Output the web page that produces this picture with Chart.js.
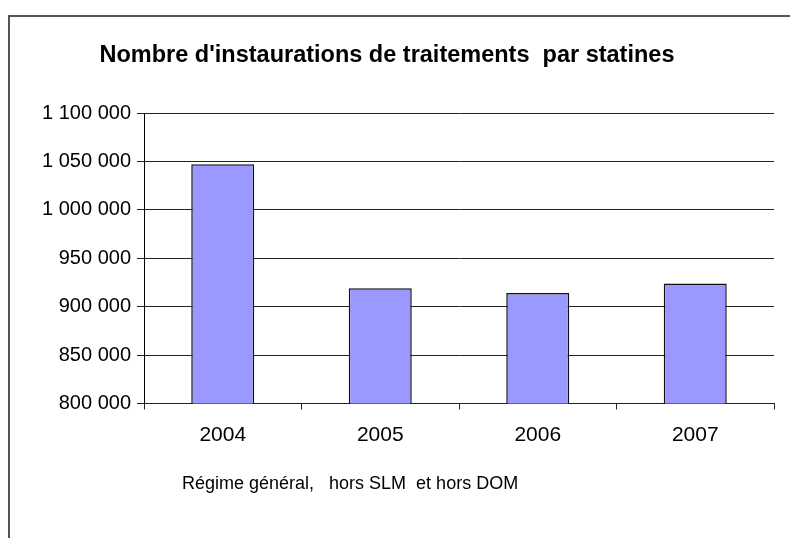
<!DOCTYPE html>
<html>
<head>
<meta charset="utf-8">
<script src="https://cdn.jsdelivr.net/npm/chart.js@4/dist/chart.umd.min.js"></script>
<style>
  html, body { margin: 0; padding: 0; background: #fff; overflow: hidden; }
  #wrap { position: relative; width: 790px; height: 538px; }
  #frame { position: absolute; left: 8px; top: 15px; width: 900px; height: 700px;
           border-left: 2px solid #555; border-top: 2px solid #555; }
  #c { position: absolute; left: 0; top: 0; }
</style>
</head>
<body>
<div id="wrap">
  <div id="frame"></div>
  <canvas id="c" width="790" height="538"></canvas>
</div>
<script>
var years = ['2004', '2005', '2006', '2007'];
var counts = [1047000, 919000, 914000, 924000];
var yTicks = [800000, 850000, 900000, 950000, 1000000, 1050000, 1100000];
var chartTitle = "Nombre d'instaurations de traitements  par statines";
var footnote = 'Régime général,   hors SLM  et hors DOM';

var FONT = "'Liberation Sans', Arial, sans-serif";

function spaced(v) {
    return String(v).replace(/\B(?=(\d{3})+(?!\d))/g, ' ');
}

// note under the axis, drawn as plain text
var footnotePlugin = {
    id: 'footnote',
    afterDraw: function(chart) {
        var ctx = chart.ctx;
        ctx.save();
        ctx.font = '18px ' + FONT;
        ctx.fillStyle = '#000';
        ctx.textAlign = 'left';
        ctx.textBaseline = 'middle';
        ctx.fillText(footnote, 182, 484);
        ctx.restore();
    }
};

new Chart(document.getElementById('c'), {
    type: 'bar',
    data: {
        labels: years,
        datasets: [{
            data: counts,
            backgroundColor: '#9999ff',
            borderColor: '#111',
            borderWidth: 1.5,
            barPercentage: 0.4,
            categoryPercentage: 1
        }]
    },
    plugins: [footnotePlugin],
    options: {
        responsive: false,
        devicePixelRatio: 1,
        animation: false,
        layout: { padding: { left: 0, right: 16, top: 0, bottom: 0 } },
        plugins: {
            legend: { display: false },
            tooltip: { enabled: false },
            title: {
                display: true,
                text: chartTitle,
                color: '#000',
                font: { family: FONT, size: 23.5, weight: 'bold' },
                padding: { top: 41, bottom: 43.8 }
            }
        },
        scales: {
            x: {
                afterFit: function(s) { s.height = 134.5; },
                grid: {
                    display: true,
                    drawOnChartArea: false,
                    drawTicks: true,
                    tickLength: 6,
                    offset: true,
                    color: '#222',
                    lineWidth: 1
                },
                border: { display: true, color: '#222', width: 1 },
                ticks: {
                    color: '#000',
                    font: { family: FONT, size: 21 },
                    padding: 13,
                    maxRotation: 0
                }
            },
            y: {
                min: 800000,
                max: 1100000,
                afterFit: function(s) { s.width = 144; },
                afterBuildTicks: function(s) {
                    s.ticks = yTicks.map(function(v) { return { value: v }; });
                },
                grid: {
                    color: '#222',
                    lineWidth: 1,
                    drawTicks: true,
                    tickLength: 7
                },
                border: { display: true, color: '#000', width: 1 },
                ticks: {
                    color: '#000',
                    font: { family: FONT, size: 20 },
                    padding: 6,
                    callback: function(v) { return spaced(v); }
                }
            }
        }
    }
});
</script>
</body>
</html>
